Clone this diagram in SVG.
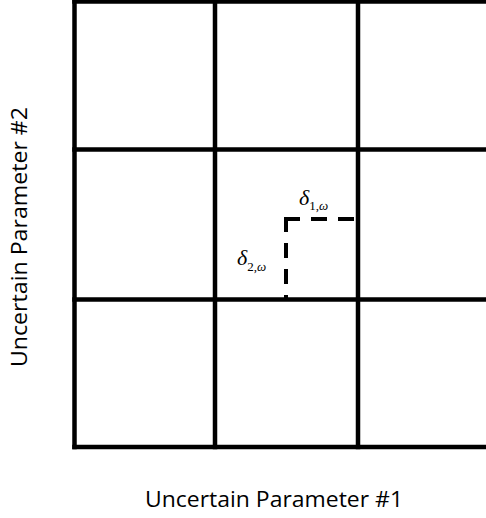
<svg xmlns="http://www.w3.org/2000/svg" width="486" height="518" viewBox="0 0 486 518">
<style>
.grid{stroke:#000;stroke-width:4.5;fill:none;stroke-linecap:square}
.dash{stroke:#000;stroke-width:4;fill:none;stroke-dasharray:15 11}
.axis{font-family:"Open Sans","Liberation Sans",sans-serif;font-size:22px;fill:#000}
.sym{font-family:"Liberation Serif","Times New Roman",serif;font-style:italic;fill:#000}
.up{font-style:normal}
</style>
<rect width="486" height="518" fill="#fff"/>
<g id="grid">
<line class="grid" x1="74.5" y1="1.5" x2="488" y2="1.5"/>
<line class="grid" x1="74.5" y1="149.5" x2="488" y2="149.5"/>
<line class="grid" x1="74.5" y1="299.5" x2="488" y2="299.5"/>
<line class="grid" x1="74.5" y1="447" x2="488" y2="447"/>
<line class="grid" x1="74.5" y1="1.5" x2="74.5" y2="447"/>
<line class="grid" x1="215" y1="1.5" x2="215" y2="447"/>
<line class="grid" x1="358" y1="1.5" x2="358" y2="447"/>
</g>
<g id="connectors">
<line class="dash" x1="284" y1="219" x2="356" y2="219" style="stroke-dasharray:16 11"/>
<line class="dash" x1="286" y1="217" x2="286" y2="299"/>
</g>
<g id="delta1">
<text class="sym" x="299" y="205" font-size="22">δ<tspan font-size="13" dy="5" class="up">1,</tspan><tspan font-size="13">ω</tspan></text>
</g>
<g id="delta2">
<text class="sym" x="237" y="265" font-size="22">δ<tspan font-size="13" dy="6" class="up">2,</tspan><tspan font-size="13">ω</tspan></text>
</g>
<g id="xlabel">
<text class="axis" x="145" y="507" textLength="258" lengthAdjust="spacingAndGlyphs">Uncertain Parameter #1</text>
</g>
<g id="ylabel">
<text class="axis" transform="translate(27,367) rotate(-90)" x="0" y="0" textLength="260" lengthAdjust="spacingAndGlyphs">Uncertain Parameter #2</text>
</g>
</svg>
